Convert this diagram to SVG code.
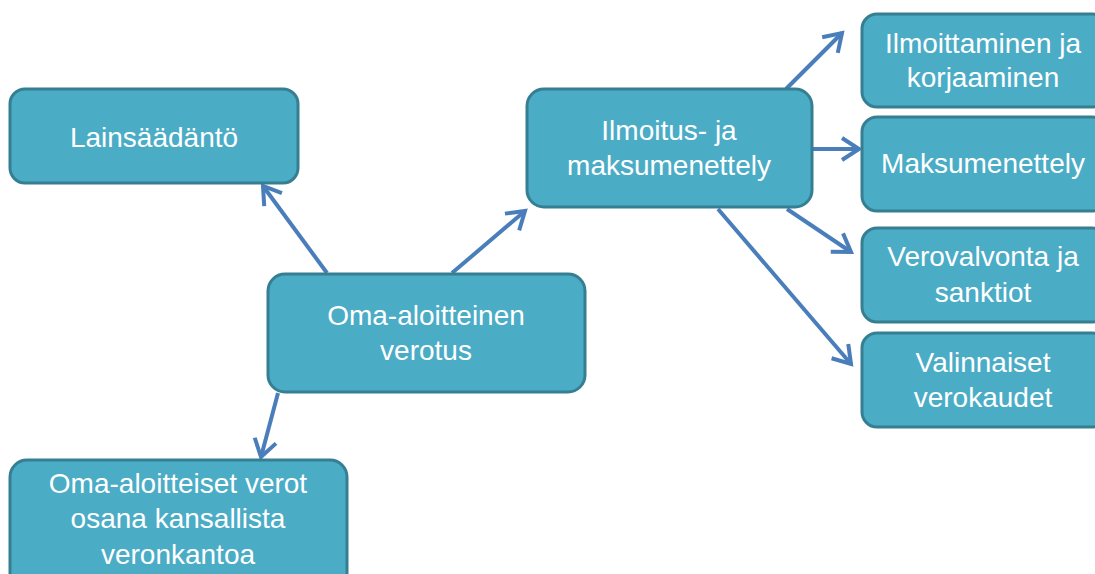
<svg xmlns="http://www.w3.org/2000/svg" width="1095" height="574" viewBox="0 0 1095 574">
<defs>
<style>
.box{fill:#4bacc6;stroke:#367f93;stroke-width:3}
.t{font-family:"Liberation Sans",Arial,sans-serif;font-size:28px;fill:#ffffff;text-anchor:middle}
.c line{stroke:#4a7ebb;stroke-width:4;marker-end:url(#ah)}
</style>
<marker id="ah" markerUnits="userSpaceOnUse" viewBox="0 0 26 26" markerWidth="26" markerHeight="26" refX="22" refY="13" orient="auto">
<path d="M5,2 L22,13 L5,24" fill="none" stroke="#4a7ebb" stroke-width="4" stroke-linejoin="miter"/>
</marker>
</defs>
<rect width="1095" height="574" fill="#ffffff"/>
<g class="c" id="connectors">
<line x1="327" y1="273" x2="263" y2="186"/>
<line x1="452" y1="273" x2="525" y2="211"/>
<line x1="278" y1="393" x2="261" y2="457"/>
<line x1="786" y1="89" x2="842" y2="33"/>
<line x1="813" y1="149" x2="859" y2="149"/>
<line x1="787" y1="209" x2="851" y2="252"/>
<line x1="718" y1="209" x2="851" y2="364"/>
</g>
<g id="n-lainsaadanto">
<rect class="box" x="10" y="89" width="288" height="94" rx="15"/>
<text class="t" x="154" y="147">Lainsäädäntö</text>
</g>
<g id="n-center">
<rect class="box" x="268" y="274" width="317" height="118" rx="17"/>
<text class="t" x="426" y="325">Oma-aloitteinen</text>
<text class="t" x="426" y="360">verotus</text>
</g>
<g id="n-ilmoitus">
<rect class="box" x="527" y="89" width="285" height="118" rx="17"/>
<text class="t" x="669" y="140">Ilmoitus- ja</text>
<text class="t" x="669" y="175">maksumenettely</text>
</g>
<g id="n-ilmoittaminen">
<rect class="box" x="862" y="14" width="245" height="93" rx="15"/>
<text class="t" x="983" y="53">Ilmoittaminen ja</text>
<text class="t" x="983" y="87">korjaaminen</text>
</g>
<g id="n-maksu">
<rect class="box" x="862" y="117" width="245" height="94" rx="15"/>
<text class="t" x="983" y="173">Maksumenettely</text>
</g>
<g id="n-verovalvonta">
<rect class="box" x="862" y="228" width="245" height="94" rx="15"/>
<text class="t" x="983" y="266">Verovalvonta ja</text>
<text class="t" x="983" y="302">sanktiot</text>
</g>
<g id="n-valinnaiset">
<rect class="box" x="862" y="333" width="245" height="94" rx="15"/>
<text class="t" x="983" y="372">Valinnaiset</text>
<text class="t" x="983" y="407">verokaudet</text>
</g>
<g id="n-oma-verot">
<rect class="box" x="10" y="460" width="337" height="130" rx="17"/>
<text class="t" x="178" y="493">Oma-aloitteiset verot</text>
<text class="t" x="178" y="528">osana kansallista</text>
<text class="t" x="178" y="564">veronkantoa</text>
</g>
</svg>
